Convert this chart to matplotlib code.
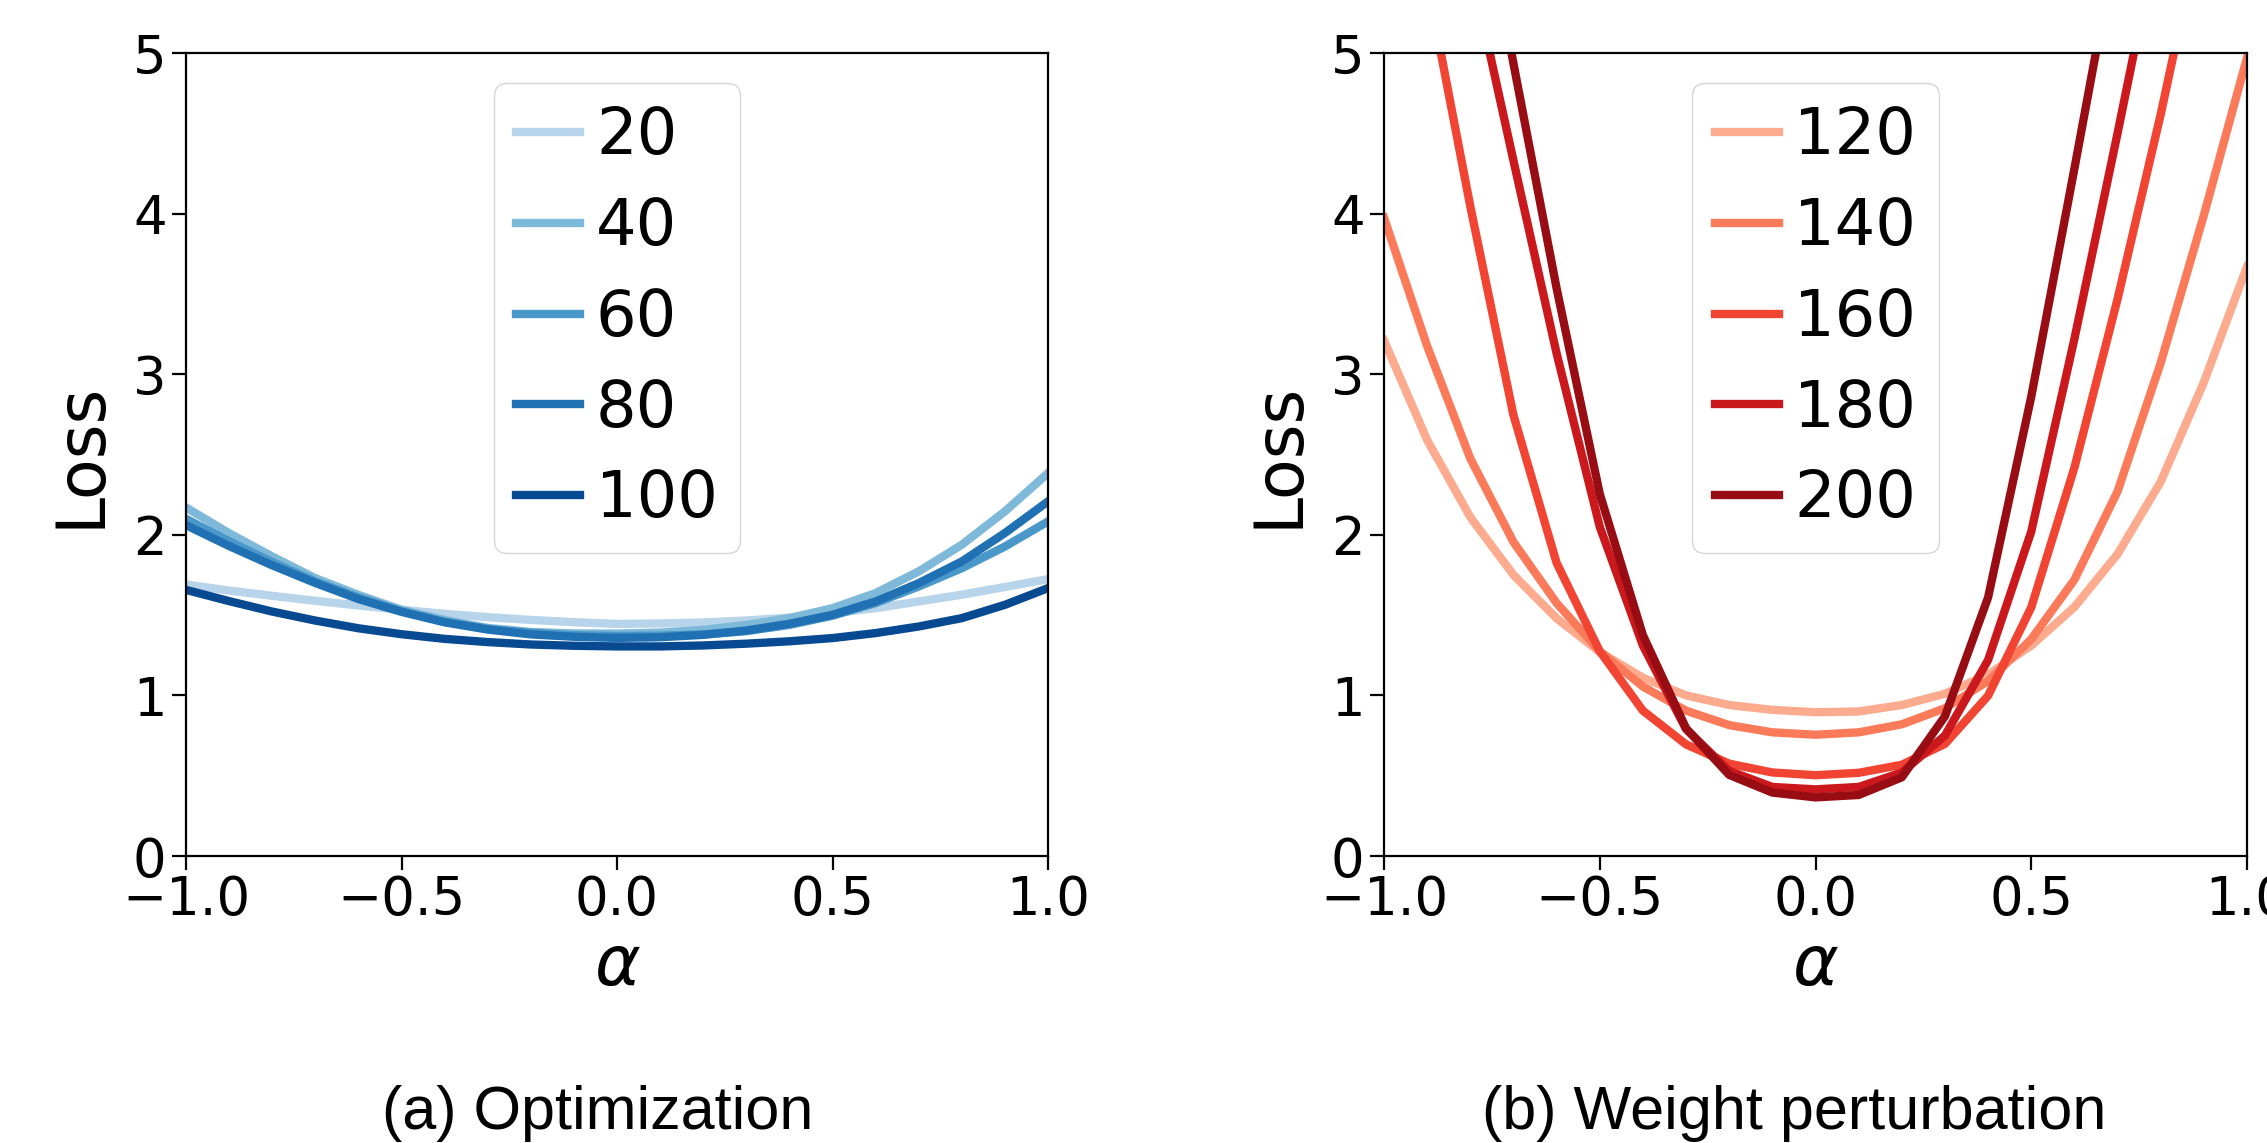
import matplotlib
matplotlib.use("Agg")
import matplotlib.pyplot as plt
import numpy as np

# alpha grid shared by every curve
alpha = [-1.0, -0.9, -0.8, -0.7, -0.6, -0.5, -0.4, -0.3, -0.2, -0.1, 0.0,
         0.1, 0.2, 0.3, 0.4, 0.5, 0.6, 0.7, 0.8, 0.9, 1.0]

# (a) Optimization
opt_labels = ["20", "40", "60", "80", "100"]
opt_20 = [1.69, 1.653, 1.620, 1.589, 1.560, 1.533, 1.508, 1.487, 1.470, 1.456, 1.445,
          1.448, 1.454, 1.466, 1.485, 1.512, 1.543, 1.585, 1.627, 1.675, 1.724]
opt_40 = [2.17, 2.01, 1.865, 1.73, 1.626, 1.533, 1.47, 1.42, 1.395, 1.386, 1.385,
          1.391, 1.408, 1.439, 1.481, 1.543, 1.637, 1.772, 1.938, 2.146, 2.384]
opt_60 = [2.10, 1.96, 1.83, 1.71, 1.61, 1.525, 1.46, 1.415, 1.39, 1.375, 1.37,
          1.372, 1.38, 1.400, 1.439, 1.496, 1.575, 1.678, 1.792, 1.927, 2.083]
opt_80 = [2.06, 1.93, 1.81, 1.70, 1.60, 1.52, 1.455, 1.41, 1.38, 1.365, 1.358,
          1.362, 1.377, 1.404, 1.446, 1.502, 1.585, 1.699, 1.834, 2.011, 2.208]
opt_100 = [1.657, 1.587, 1.522, 1.466, 1.418, 1.381, 1.352, 1.332, 1.317, 1.309, 1.305,
           1.305, 1.311, 1.322, 1.337, 1.357, 1.388, 1.429, 1.481, 1.564, 1.668]

# (b) Weight perturbation (values above 5 run off the top of the axes)
pert_labels = ["120", "140", "160", "180", "200"]
pert_120 = [3.21, 2.59, 2.11, 1.75, 1.48, 1.27, 1.11, 1.00, 0.94, 0.91, 0.895,
            0.90, 0.94, 1.01, 1.13, 1.31, 1.55, 1.88, 2.33, 2.95, 3.67]
pert_140 = [3.975, 3.175, 2.475, 1.955, 1.575, 1.275, 1.055, 0.905, 0.815, 0.77, 0.755,
            0.77, 0.82, 0.92, 1.09, 1.35, 1.72, 2.27, 3.07, 3.99, 4.97]
pert_160 = [6.9, 5.445, 4.045, 2.745, 1.825, 1.275, 0.905, 0.695, 0.575, 0.52, 0.503,
            0.518, 0.568, 0.698, 0.998, 1.548, 2.418, 3.468, 4.618, 5.868, 7.1]
pert_180 = [8.5, 7.0, 5.55, 4.33, 3.13, 2.05, 1.31, 0.79, 0.53, 0.43, 0.415,
            0.43, 0.52, 0.75, 1.22, 2.02, 3.22, 4.50, 5.82, 7.2, 8.6]
pert_200 = [9.5, 7.9, 6.385, 4.935, 3.535, 2.255, 1.375, 0.795, 0.505, 0.395, 0.365,
            0.38, 0.49, 0.87, 1.61, 2.86, 4.28, 5.73, 7.2, 8.7, 10.2]

blues = plt.cm.Blues(np.linspace(0.3, 0.9, 5))
reds = plt.cm.Reds(np.linspace(0.3, 0.9, 5))

W, H = 2267, 1143
fig = plt.figure(figsize=(W / 100, H / 100), dpi=100)
bot = 1 - 856 / H
hgt = (856 - 53) / H
ax1 = fig.add_axes([186 / W, bot, 862 / W, hgt])
ax2 = fig.add_axes([1384 / W, bot, 863 / W, hgt])


def draw(ax, series, labels, colors):
    for vals, lab, c in zip(series, labels, colors):
        ax.plot(alpha, vals, color=c, lw=6, label=lab)
    ax.set_xlim(-1, 1)
    ax.set_ylim(0, 5)
    ax.set_xticks([-1.0, -0.5, 0.0, 0.5, 1.0])
    ax.set_yticks([0, 1, 2, 3, 4, 5])
    ax.tick_params(labelsize=38, length=10, width=1.6)
    ax.tick_params(axis="x", pad=3)
    ax.tick_params(axis="y", pad=4)
    for s in ax.spines.values():
        s.set_linewidth(1.6)
    ax.set_ylabel("Loss", fontsize=48)
    ax.yaxis.set_label_coords(-0.084, 0.5)
    ax.set_xlabel(r"$\alpha$", fontsize=50)
    ax.xaxis.set_label_coords(0.5, -0.095)
    ax.legend(loc="upper center", fontsize=46, handlelength=1.0,
              handletextpad=0.25, labelspacing=0.45, borderpad=0.35,
              borderaxespad=0.47)


draw(ax1, [opt_20, opt_40, opt_60, opt_80, opt_100], opt_labels, blues)
draw(ax2, [pert_120, pert_140, pert_160, pert_180, pert_200], pert_labels, reds)

fig.text(598 / W, 1 - 1113 / H, "(a) Optimization", ha="center", va="center",
         fontsize=44, family="Liberation Sans")
fig.text(1794 / W, 1 - 1113 / H, "(b) Weight perturbation", ha="center", va="center",
         fontsize=44, family="Liberation Sans")

fig.savefig("out.png", dpi=100)
